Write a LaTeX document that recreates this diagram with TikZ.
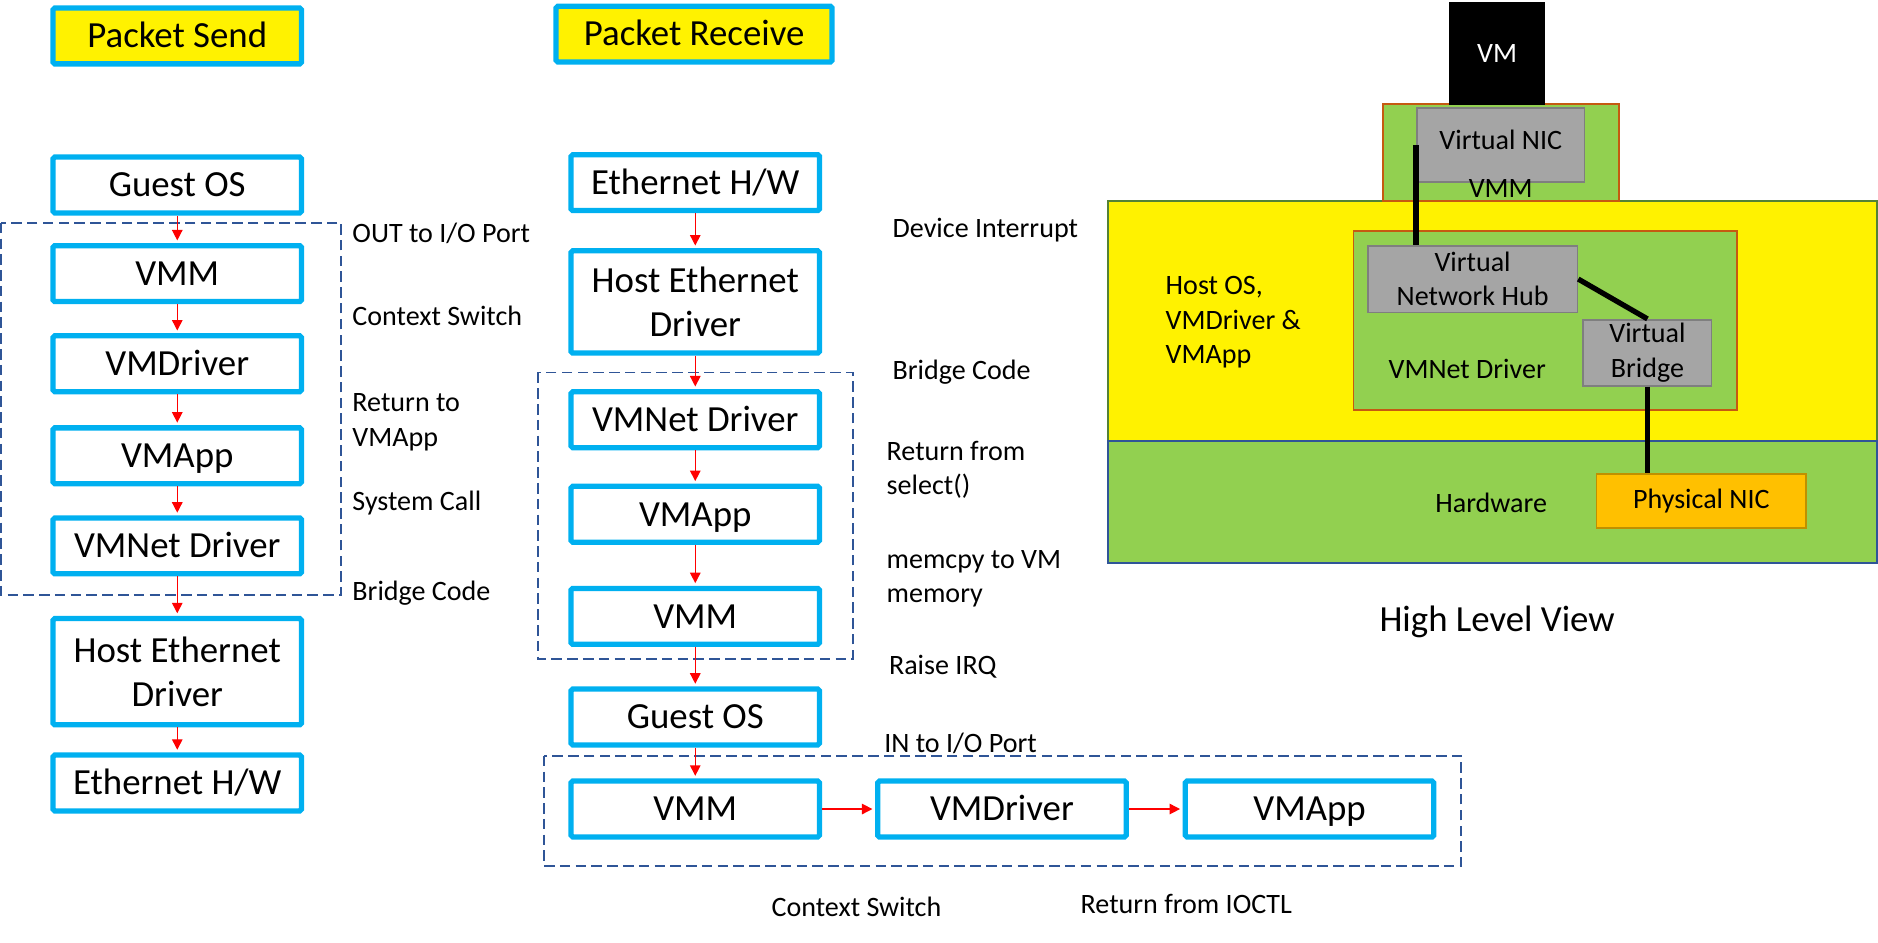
\documentclass[tikz,border=0pt]{standalone}
\usepackage{fontspec}
\setmainfont{Carlito}
\usetikzlibrary{positioning, arrows.meta}

\definecolor{boxblue}{HTML}{00B0F0}
\definecolor{dashblue}{HTML}{2F5597}
\definecolor{hwgreen}{HTML}{92D050}
\definecolor{rustbrown}{HTML}{C55A11}
\definecolor{hostgreen}{HTML}{548235}
\definecolor{nicgray}{HTML}{A5A5A5}
\definecolor{grayline}{HTML}{7F7F7F}
\definecolor{nicorange}{HTML}{FFC000}
\definecolor{orangeline}{HTML}{BF9000}

\newcommand{\boxfont}{\fontsize{21}{25}\selectfont}
\newcommand{\notefont}{\fontsize{16}{19.5}\selectfont}

\begin{document}
\begin{tikzpicture}[
                x=0.024cm, y=-0.024cm,
                stepnode/.style={rectangle, draw=boxblue, line width=3pt, rounded corners=1pt, fill=white, minimum width=4.98cm, minimum height=1.12cm, align=center, font=\boxfont, inner sep=2pt, text height=16pt, text depth=2.5pt},
                titlenode/.style={stepnode, fill=yellow},
                tallnode/.style={stepnode, minimum height=2.13cm, text height={}, text depth={}},
                notenode/.style={anchor=west, align=left, font=\notefont, inner sep=0pt},
                flow/.style={->, >={Triangle[length=6pt, width=6pt]}, red, line width=0.8pt, shorten >=1.5pt},
                dashbox/.style={draw=dashblue, line width=1pt, dash pattern=on 6pt off 3pt},
                layer/.style={rectangle, line width=1pt, font=\notefont, inner sep=0pt},
                partbox/.style={rectangle, fill=nicgray, draw=grayline, line width=1pt, align=center, font=\notefont, inner sep=0pt},
                wire/.style={line width=3pt, black},
                ]
                \useasboundingbox (0,0) rectangle (1568,787);

                %Dashed groups
                \draw[dashbox] (1,186) rectangle (285,497);
                \draw[dashbox] (449,311) rectangle (712,550);
                \draw[dashbox] (454,631) rectangle (1220,723);

                %Packet send
                \node[titlenode]      (sendtitle)   at (148,30)    {Packet Send};
                \node[stepnode]       (sguest)      at (148,154.5) {Guest OS};
                \node[stepnode]       (svmm)        [below=0.55cm of sguest]  {VMM};
                \node[stepnode]       (sdriver)     [below=0.58cm of svmm]    {VMDriver};
                \node[stepnode]       (sapp)        [below=0.62cm of sdriver] {VMApp};
                \node[stepnode]       (snet)        [below=0.58cm of sapp]    {VMNet Driver};
                \node[tallnode]       (shost)       [below=0.79cm of snet]    {Host Ethernet\\Driver};
                \node[stepnode]       (seth)        [below=0.5cm of shost]    {Ethernet H/W};

                %Packet receive
                \node[titlenode, minimum width=5.53cm] (recvtitle) at (579.5,28.5) {Packet Receive};
                \node[stepnode]       (reth)        at (580.5,152.5) {Ethernet H/W};
                \node[tallnode, minimum height=2.05cm] (rhost) [below=0.7cm of reth] {Host Ethernet\\Driver};
                \node[stepnode]       (rnet)        [below=0.67cm of rhost]   {VMNet Driver};
                \node[stepnode]       (rapp)        [below=0.67cm of rnet]    {VMApp};
                \node[stepnode]       (rvmm)        [below=0.82cm of rapp]    {VMM};
                \node[stepnode]       (rguest)      [below=0.79cm of rvmm]    {Guest OS};
                \node[stepnode]       (rvmmb)       [below=0.62cm of rguest]  {VMM};
                \node[stepnode]       (rdriver)     [right=1.06cm of rvmmb]   {VMDriver};
                \node[stepnode]       (rappb)       [right=1.08cm of rdriver] {VMApp};

                %Lines
                \foreach \a/\b in {sguest/svmm, svmm/sdriver, sdriver/sapp, sapp/snet, snet/shost, shost/seth,
                                   reth/rhost, rhost/rnet, rnet/rapp, rapp/rvmm, rvmm/rguest, rguest/rvmmb,
                                   rvmmb/rdriver, rdriver/rappb}
                    \draw[flow] (\a) -- (\b);

                %Notes
                \node[notenode] (nout)     at (294,195)   {OUT to I/O Port};
                \node[notenode] (nctx)     at (294,264)   {Context Switch};
                \node[notenode] (nret)     at (294,352.5) {Return to\\VMApp};
                \node[notenode] (nsys)     at (294,420)   {System Call};
                \node[notenode] (nbridge)  at (294,495)   {Bridge Code};
                \node[notenode] (nirq)     at (745,192)   {Device Interrupt};
                \node[notenode] (nbridgeb) at (745,311)   {Bridge Code};
                \node[notenode] (nselect)  at (740,392)   {Return from\\select()};
                \node[notenode] (nmemcpy)  at (740,483.5) {memcpy to VM\\memory};
                \node[notenode] (nraise)   at (742,557)   {Raise IRQ};
                \node[notenode] (nin)      at (738,621)   {IN to I/O Port};
                \node[notenode] (nctxb)    at (644,757)   {Context Switch};
                \node[notenode] (nioctl)   at (902,755)   {Return from IOCTL};

                %High level view
                \node[layer, fill=yellow, draw=hostgreen, minimum width=15.41cm, minimum height=4.8cm] (hostos) at (1246,268) {};
                \node[layer, fill=hwgreen, draw=dashblue, minimum width=15.41cm, minimum height=2.45cm] (hardware) at (1246,419) {};
                \node[layer, fill=hwgreen, draw=rustbrown, minimum width=4.73cm, minimum height=1.94cm] (vmmbox) at (1253.5,127.5) {};
                \node[layer, fill=black, text=white, minimum width=1.92cm, minimum height=2.06cm] (vm) at (1250,45) {VM};
                \node[partbox, minimum width=3.36cm, minimum height=1.49cm, text depth=5.5pt] (vnic) at (1253,121) {Virtual NIC};
                \node[layer, fill=hwgreen, draw=rustbrown, minimum width=7.68cm, minimum height=3.58cm] (vmnetbox) at (1290,267.5) {};
                \node[partbox, minimum width=4.2cm, minimum height=1.34cm] (hub) at (1229.5,233) {Virtual\\Network Hub};
                \node[partbox, minimum width=2.57cm, minimum height=1.32cm] (bridge) at (1375.5,294.5) {Virtual\\Bridge};
                \node[partbox, fill=nicorange, draw=orangeline, minimum width=4.2cm, minimum height=1.08cm] (pnic) at (1420.5,418.5) {Physical NIC};

                \node[font=\notefont]  (vmmlabel)   at (1253,157)   {VMM};
                \node[notenode]        (hostlabel)  at (973,269)    {Host OS,\\VMDriver \&\\VMApp};
                \node[font=\notefont]  (vmnetlabel) at (1225,308)   {VMNet Driver};
                \node[font=\notefont]  (hwlabel)    at (1245,420)   {Hardware};
                \node[font=\boxfont]   (hlview)     at (1250,519)   {High Level View};

                \draw[wire] (vnic.west) -- (vnic.west |- hub.north);
                \draw[wire] (hub.east) -- (bridge.north);
                \draw[wire] (bridge.south) -- (bridge.south |- pnic.north);
                \end{tikzpicture}
\end{document}
